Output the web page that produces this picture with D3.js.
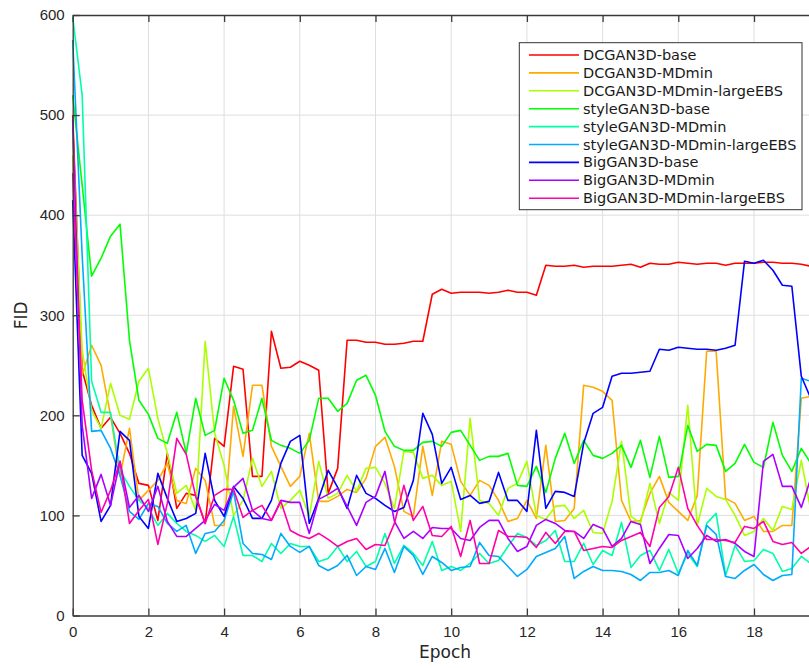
<!DOCTYPE html>
<html>
<head>
<meta charset="utf-8">
<script src="https://cdn.jsdelivr.net/npm/d3@7"></script>
<style>
  html, body { margin: 0; padding: 0; background: #fff; }
  svg { display: block; font-family: "DejaVu Sans", sans-serif; }
</style>
</head>
<body>
<div id="chart"></div>
<script>
// FID per quarter epoch
const seriesNames = [
  "DCGAN3D-base", "DCGAN3D-MDmin", "DCGAN3D-MDmin-largeEBS",
  "styleGAN3D-base", "styleGAN3D-MDmin", "styleGAN3D-MDmin-largeEBS",
  "BigGAN3D-base", "BigGAN3D-MDmin", "BigGAN3D-MDmin-largeEBS"
];
const seriesColors = ["#ff0000", "#ffaa00", "#aaff00", "#00ff00", "#00ffaa", "#00aaff", "#0000ff", "#aa00ff", "#ff00aa"];

const dcganBase = [500,245,210,187,198,182,162,132,130,95, 162,107,122,120,92,177,169,249,246,139,
  139,284,247,248,254,250,245,122,147,275, 275,273,273,271,271,272,274,274,321,326,
  322,323,323,323,322,323,325,323,323,320, 350,349,349,350,348,349,349,349,350,351,
  348,352,351,351,353,352,351,352,352,350, 352,352,352,353,353,352,352,351,349];
const dcganMDmin = [460,240,270,250,200,139,187,115,125,135, 152,115,112,147,135,90,90,209,159,230,
  230,169,149,129,139,182,114,114,119,126, 123,137,169,178,149,104,99,169,120,174,
  171,134,120,135,130,115,94,97,115,97, 170,94,95,107,230,228,224,215,115,94,
  95,122,139,113,104,95,120,264,264,117, 112,95,99,84,84,90,90,217,219];
const dcganLarge = [480,265,205,187,232,200,196,234,247,197, 162,122,130,105,274,182,150,100,115,157,
  129,144,107,115,125,99,154,117,122,140, 124,147,148,132,107,164,163,137,140,130,
  134,84,197,115,112,100,127,132,154,100, 96,109,110,97,105,83,82,114,174,99,
  92,132,92,123,115,210,90,127,119,116, 100,80,84,97,85,109,106,155,105];
const styleBase = [520,430,339,357,379,391,275,215,201,177, 172,203,162,217,180,185,237,215,182,185,
  217,175,170,167,162,175,217,217,204,212, 235,240,220,184,169,165,165,173,174,169,
  183,185,170,155,159,159,162,130,129,149, 123,157,182,152,175,160,157,162,170,148,
  175,138,179,138,139,190,164,171,170,144, 152,171,153,148,193,160,144,167,152];
const styleMDmin = [598,520,234,203,203,145,129,115,107,90, 102,92,84,80,74,80,69,99,60,60,
  54,72,62,72,69,69,54,57,69,54, 64,49,54,82,52,70,62,50,74,45,
  49,45,52,62,52,55,69,82,78,70, 75,85,54,54,72,51,65,60,93,48,
  60,65,45,66,42,62,49,92,102,40, 70,54,55,66,62,44,47,59,52];
const styleLarge = [575,360,184,185,167,140,104,96,112,109, 92,84,90,62,82,84,95,124,72,62,
  61,56,82,69,63,69,50,45,50,60, 40,49,46,67,43,69,60,41,59,53,
  45,48,49,73,60,59,49,39,46,59, 63,67,79,37,44,49,45,45,44,41,
  35,43,43,45,40,65,50,90,81,39, 37,45,51,41,35,40,41,237,234];
const bigBase = [415,160,142,94,110,184,175,99,87,142, 117,94,97,102,162,115,99,129,117,97,
  97,115,152,174,180,92,117,145,128,107, 140,122,117,110,104,108,135,202,181,132,
  148,116,120,112,114,143,115,115,104,185, 107,124,123,119,172,202,208,239,242,242,
  243,244,266,265,268,267,266,266,265,267, 270,354,352,355,345,330,329,239,217];
const bigMDmin = [495,190,117,141,110,154,108,120,104,129, 94,79,79,87,95,111,105,128,137,105,
  97,95,115,113,113,82,116,121,127,109, 90,113,119,144,94,77,84,77,88,87,
  87,77,75,88,95,95,77,64,69,90, 96,92,85,84,77,91,87,69,77,94,
  91,52,67,81,80,57,67,80,74,76, 72,64,59,154,161,129,129,108,137];
const bigLarge = [442,215,145,103,125,154,92,105,116,71, 112,177,161,119,92,120,126,126,98,105,
  110,95,114,85,80,77,82,76,69,74, 77,66,71,70,92,130,95,109,80,79,
  89,59,95,52,52,85,79,79,78,68, 83,72,84,84,65,67,69,68,75,79,
  83,69,108,119,148,107,90,76,76,75, 73,89,87,94,74,71,73,62,69];

const allSeries = [dcganBase, dcganMDmin, dcganLarge, styleBase, styleMDmin, styleLarge, bigBase, bigMDmin, bigLarge];
const xTicks = [0, 2, 4, 6, 8, 10, 12, 14, 16, 18];
const yTicks = [0, 100, 200, 300, 400, 500, 600];
const epochStep = 0.25;

const width = 809, height = 668;
const margin = { top: 15, left: 72.7, bottom: 52.5 };
const plotRight = 829.7; // axes run past the window edge

const svg = d3.select("#chart")
  .append("svg")
  .attr("width", width)
  .attr("height", height)
  .attr("viewBox", `0 0 ${width} ${height}`);

const x = d3.scaleLinear().domain([0, 20]).range([margin.left, plotRight]);
const y = d3.scaleLinear().domain([0, 600]).range([height - margin.bottom, margin.top]);

svg.append("rect").attr("width", width).attr("height", height).attr("fill", "#fff");

// grid
const grid = svg.append("g").attr("stroke", "#dedede").attr("stroke-width", 1);
grid.selectAll("line.gx")
  .data(xTicks.slice(1))
  .enter().append("line")
  .attr("x1", d => x(d)).attr("x2", d => x(d))
  .attr("y1", y(0)).attr("y2", y(600));
grid.selectAll("line.gy")
  .data(yTicks.slice(1, -1))
  .enter().append("line")
  .attr("x1", x(0)).attr("x2", width)
  .attr("y1", d => y(d)).attr("y2", d => y(d));

// lines
const line = d3.line()
  .x((d, i) => x(i * epochStep))
  .y(d => y(d));

svg.append("g")
  .selectAll("path")
  .data(allSeries)
  .enter().append("path")
  .attr("fill", "none")
  .attr("stroke", (d, i) => seriesColors[i])
  .attr("stroke-width", 1.6)
  .attr("stroke-linejoin", "round")
  .attr("d", line);

// axes, ticks pointing inward like matlab
const axisColor = "#3a3a3a";
const styleAxis = g => {
  g.select(".domain").attr("stroke", axisColor).attr("stroke-width", 1.3);
  g.selectAll(".tick line").attr("stroke", axisColor).attr("stroke-width", 1.3);
  g.selectAll(".tick text").attr("fill", "#262626").style("font-size", "15px");
};

svg.append("g")
  .attr("transform", `translate(0,${y(0)})`)
  .call(d3.axisBottom(x).tickValues(xTicks).tickFormat(d3.format("d")).tickSizeInner(-7).tickSizeOuter(0).tickPadding(11))
  .call(styleAxis);

svg.append("g")
  .attr("transform", `translate(0,${y(600)})`)
  .call(d3.axisTop(x).tickValues(xTicks).tickFormat("").tickSizeInner(-7).tickSizeOuter(0))
  .call(styleAxis);

svg.append("g")
  .attr("transform", `translate(${x(0)},0)`)
  .call(d3.axisLeft(y).tickValues(yTicks).tickSizeInner(-7).tickSizeOuter(0).tickPadding(8))
  .call(styleAxis);

// axis labels
svg.append("text")
  .attr("x", 445).attr("y", 658)
  .attr("text-anchor", "middle")
  .attr("fill", "#262626")
  .style("font-size", "17px")
  .text("Epoch");

svg.append("text")
  .attr("transform", `translate(27,${y(300)}) rotate(-90)`)
  .attr("text-anchor", "middle")
  .attr("fill", "#262626")
  .style("font-size", "17px")
  .text("FID");

// legend
const legend = svg.append("g").attr("transform", "translate(519.3,42.7)");
legend.append("rect")
  .attr("width", 282.7).attr("height", 167)
  .attr("fill", "#fff")
  .attr("stroke", "#333").attr("stroke-width", 1);

const rows = legend.selectAll("g.row")
  .data(seriesNames)
  .enter().append("g")
  .attr("transform", (d, i) => `translate(0,${12.3 + i * 17.9})`);

rows.append("line")
  .attr("x1", 9.7).attr("x2", 59.7)
  .attr("stroke", (d, i) => seriesColors[i])
  .attr("stroke-width", 1.6);

rows.append("text")
  .attr("x", 63.7)
  .attr("dy", "0.35em")
  .attr("fill", "#1a1a1a")
  .style("font-size", "14.5px")
  .text(d => d);
</script>
</body>
</html>
